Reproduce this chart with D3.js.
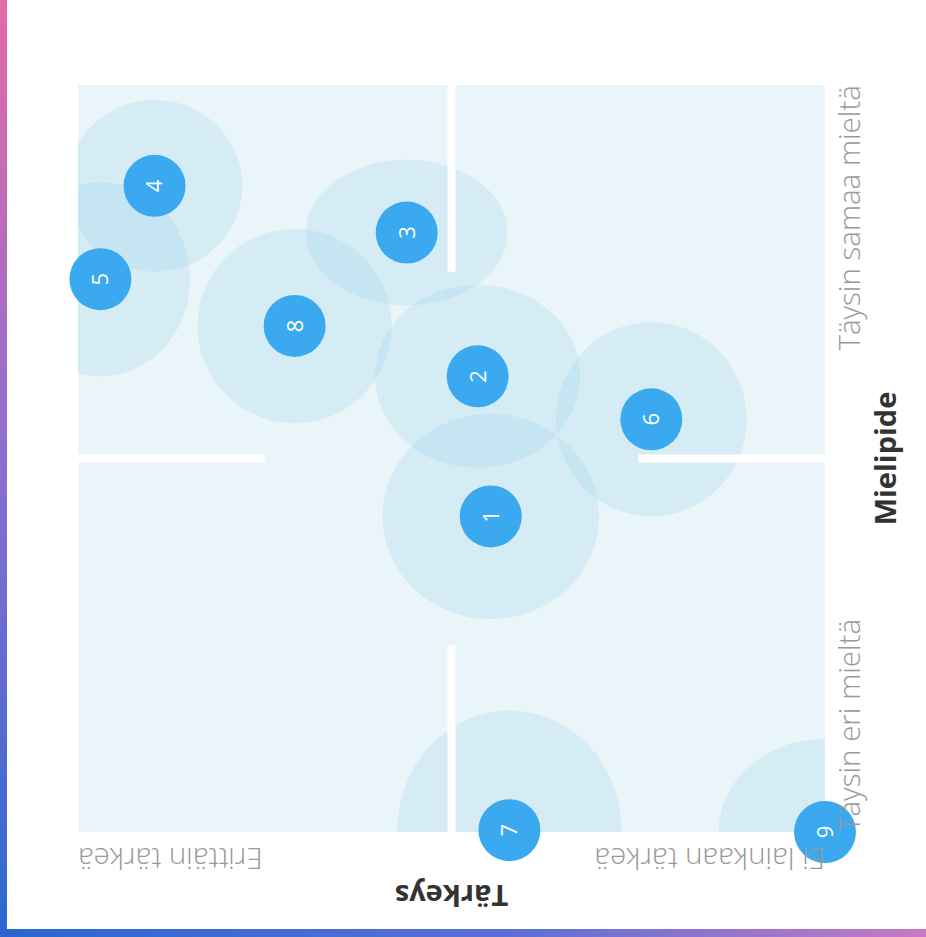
<!DOCTYPE html>
<html>
<head>
<meta charset="utf-8">
<script src="https://cdn.jsdelivr.net/npm/d3@7"></script>
<style>
  html, body { margin: 0; padding: 0; background: #fff; }
  svg { display: block; }
</style>
</head>
<body>
<svg id="chart" width="926" height="937"></svg>
<script>
/* ── DATA ───────────────────────────────────────── */
// statements 1-9: mean opinion / importance (1-5) and the spread around them
const ITEMS             = ['1', '2', '3', '4', '5', '6', '7', '8', '9'];
const OPINION           = [2.69, 3.44, 4.21, 4.46, 3.96, 3.21, 1.01, 3.71, 1.00];
const IMPORTANCE        = [2.79, 2.86, 3.24, 4.59, 4.88, 1.93, 2.69, 3.84, 1.00];
const OPINION_SPREAD    = [0.55, 0.49, 0.39, 0.46, 0.52, 0.52, 0.64, 0.52, 0.50];
const IMPORTANCE_SPREAD = [0.58, 0.55, 0.54, 0.47, 0.48, 0.51, 0.60, 0.52, 0.57];

const X_TITLE  = 'Mielipide';
const X_LABELS = ['Täysin eri mieltä', 'Täysin samaa mieltä'];
const Y_TITLE  = 'Tärkeys';
const Y_LABELS = ['Ei lainkaan tärkeä', 'Erittäin tärkeä'];

const DOMAIN   = [1, 5];
const MIDPOINT = 3;
const NEUTRAL  = 1;   // radius of the neutral zone, in scale units

/* ── LAYOUT ─────────────────────────────────────── */
// the photo shows the chart turned a quarter turn counter-clockwise
const SIZE = 747;
const ORIGIN = [78, 832];

const svg = d3.select('#chart');
const defs = svg.append('defs');

const gl = defs.append('linearGradient').attr('id', 'frame-left')
  .attr('x1', 0).attr('y1', 0).attr('x2', 0).attr('y2', 1);
gl.append('stop').attr('offset', '0%').attr('stop-color', '#e56aa6');
gl.append('stop').attr('offset', '50%').attr('stop-color', '#8a6fd0');
gl.append('stop').attr('offset', '100%').attr('stop-color', '#2a68d2');

const gb = defs.append('linearGradient').attr('id', 'frame-bottom')
  .attr('x1', 0).attr('y1', 0).attr('x2', 1).attr('y2', 0);
gb.append('stop').attr('offset', '0%').attr('stop-color', '#2a66d0');
gb.append('stop').attr('offset', '55%').attr('stop-color', '#5a70d6');
gb.append('stop').attr('offset', '100%').attr('stop-color', '#c879c4');

defs.append('clipPath').attr('id', 'plot-clip')
  .append('rect').attr('x', 0).attr('y', 0).attr('width', SIZE).attr('height', SIZE);

svg.append('rect').attr('x', 0).attr('y', 0).attr('width', 7).attr('height', 937)
  .attr('fill', 'url(#frame-left)');
svg.append('rect').attr('x', 0).attr('y', 929).attr('width', 926).attr('height', 8)
  .attr('fill', 'url(#frame-bottom)');

/* ── CHART (drawn upright, then turned) ─────────── */
const g = svg.append('g')
  .attr('transform', 'translate(' + ORIGIN[0] + ',' + ORIGIN[1] + ') rotate(-90)');

const x = d3.scaleLinear().domain(DOMAIN).range([0, SIZE]);
const y = d3.scaleLinear().domain(DOMAIN).range([SIZE, 0]);
const unit = SIZE / (DOMAIN[1] - DOMAIN[0]);

const data = ITEMS.map((id, i) => ({
  id, op: OPINION[i], imp: IMPORTANCE[i],
  rOp: OPINION_SPREAD[i], rImp: IMPORTANCE_SPREAD[i]
}));

g.append('rect').attr('x', 0).attr('y', 0).attr('width', SIZE).attr('height', SIZE)
  .attr('fill', '#e9f5f8');

g.append('g').attr('clip-path', 'url(#plot-clip)')
  .selectAll('ellipse').data(data).enter().append('ellipse')
  .attr('cx', d => x(d.op)).attr('cy', d => y(d.imp))
  .attr('rx', d => d.rOp * unit).attr('ry', d => d.rImp * unit)
  .attr('fill', '#a3d5ee').attr('fill-opacity', 0.28);

// quadrant gaps stop at the neutral zone
const gaps = [
  [[MIDPOINT, DOMAIN[1]], [MIDPOINT, MIDPOINT + NEUTRAL]],
  [[MIDPOINT, MIDPOINT - NEUTRAL], [MIDPOINT, DOMAIN[0]]],
  [[DOMAIN[0], MIDPOINT], [MIDPOINT - NEUTRAL, MIDPOINT]],
  [[MIDPOINT + NEUTRAL, MIDPOINT], [DOMAIN[1], MIDPOINT]]
];
g.selectAll('.gap').data(gaps).enter().append('line')
  .attr('class', 'gap')
  .attr('x1', d => x(d[0][0])).attr('y1', d => y(d[0][1]))
  .attr('x2', d => x(d[1][0])).attr('y2', d => y(d[1][1]))
  .attr('stroke', '#fff').attr('stroke-width', 8);

const dot = g.selectAll('.dot').data(data).enter().append('g')
  .attr('class', 'dot')
  .attr('transform', d => 'translate(' + x(d.op) + ',' + y(d.imp) + ')');
dot.append('circle').attr('r', 31).attr('fill', '#3aa9ef');
dot.append('text').attr('text-anchor', 'middle').attr('dy', '0.36em')
  .attr('font-family', '"Open Sans", sans-serif').attr('font-size', 22)
  .attr('font-weight', 400).attr('fill', '#fff').text(d => d.id);

/* ── AXIS TEXT ──────────────────────────────────── */
const light = sel => sel.attr('font-family', '"Open Sans", sans-serif')
  .attr('font-size', 29.5).attr('font-weight', 300).attr('fill', '#999');
const bold = sel => sel.attr('font-family', '"Open Sans", sans-serif')
  .attr('font-size', 29).attr('font-weight', 700).attr('fill', '#333');

g.append('text').attr('x', x(DOMAIN[0])).attr('y', SIZE + 35)
  .attr('text-anchor', 'start').call(light).text(X_LABELS[0]);
g.append('text').attr('x', x(DOMAIN[1])).attr('y', SIZE + 35)
  .attr('text-anchor', 'end').call(light).text(X_LABELS[1]);
g.append('text').attr('x', x(MIDPOINT)).attr('y', SIZE + 71)
  .attr('text-anchor', 'middle').call(bold).text(X_TITLE);

const yText = (val, anchor, off) => g.append('text')
  .attr('transform', 'translate(' + (-off) + ',' + y(val) + ') rotate(-90)')
  .attr('text-anchor', anchor);
yText(DOMAIN[0], 'start', 16).call(light).text(Y_LABELS[0]);
yText(DOMAIN[1], 'end', 16).call(light).text(Y_LABELS[1]);
yText(MIDPOINT, 'middle', 53).call(bold).text(Y_TITLE);
</script>
</body>
</html>
